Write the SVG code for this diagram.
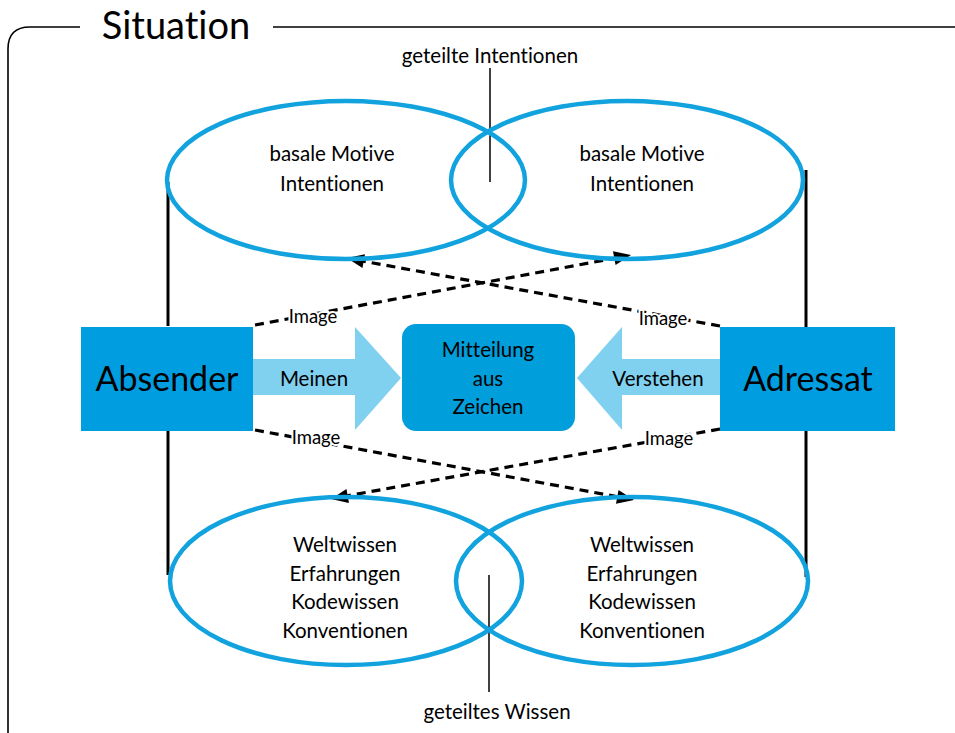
<svg xmlns="http://www.w3.org/2000/svg" width="955" height="733" viewBox="0 0 955 733">
  <style>
    text { font-family: "Lato", "Open Sans", "Liberation Sans", sans-serif; fill: #000; text-anchor: middle; font-variant-ligatures: none; }
    .ell { fill: none; stroke: #12A3DF; stroke-width: 4.5; }
    .post { stroke: #000; stroke-width: 3; fill: none; }
    .dash { stroke: #000; stroke-width: 3.2; stroke-dasharray: 9 6; fill: none; }
    .party { fill: #009EE0; }
    .flow { fill: #80D0F0; }
    .lbl { font-size: 20.5px; }
    .img { font-size: 18.5px; paint-order: stroke; stroke: #fff; stroke-width: 4px; }
    .big { font-size: 34px; }
  </style>
  <defs>
    <!-- arrow tip pointing along +x, tip at origin -->
    <path id="tip" d="M0,0 L-17,-7 L-17,7 Z" fill="#000"/>
  </defs>

  <rect width="955" height="733" fill="#fff"/>

  <!-- situation frame -->
  <g id="frame">
    <path d="M80,27 H30 Q8,27 8,49 V745" fill="none" stroke="#000" stroke-width="1.6"/>
    <path d="M273,27 H955" fill="none" stroke="#000" stroke-width="1.6"/>
    <text x="176" y="39" style="font-size:38px">Situation</text>
  </g>

  <!-- connectors -->
  <g id="connectors">
    <line class="post" x1="168" y1="182" x2="168" y2="326"/>
    <line class="post" x1="168" y1="431" x2="168" y2="575"/>
    <line class="post" x1="806" y1="170" x2="806" y2="328"/>
    <line class="post" x1="806" y1="431" x2="806" y2="577"/>
    <line x1="490" y1="68" x2="490" y2="182" stroke="#000" stroke-width="1.5"/>
    <line x1="489" y1="575" x2="489" y2="692" stroke="#000" stroke-width="1.5"/>

    <line class="dash" x1="255" y1="325" x2="616" y2="258"/>
    <use href="#tip" transform="translate(631,255) rotate(-10.55)"/>
    <line class="dash" x1="720" y1="326" x2="362" y2="261"/>
    <use href="#tip" transform="translate(347,258) rotate(190.33)"/>
    <line class="dash" x1="255" y1="430" x2="619" y2="497"/>
    <use href="#tip" transform="translate(634,500) rotate(10.46)"/>
    <line class="dash" x1="720" y1="429" x2="346" y2="496"/>
    <use href="#tip" transform="translate(331,499) rotate(169.8)"/>

    <text class="img" x="313" y="323">Image</text>
    <text class="img" x="663" y="325">Image</text>
    <text class="img" x="316" y="444">Image</text>
    <text class="img" x="669" y="445">Image</text>
    <text x="490" y="63" class="lbl">geteilte Intentionen</text>
    <text x="497" y="719" class="lbl">geteiltes Wissen</text>
  </g>

  <!-- motive ellipses -->
  <g id="motives-sender">
    <ellipse class="ell" cx="346" cy="180" rx="179" ry="79"/>
  </g>
  <g id="motives-receiver">
    <ellipse class="ell" cx="627" cy="180" rx="176" ry="79"/>
    <text class="lbl" x="332" y="161">basale Motive</text>
    <text class="lbl" x="332" y="191">Intentionen</text>
    <text class="lbl" x="642" y="161">basale Motive</text>
    <text class="lbl" x="642" y="191">Intentionen</text>
  </g>

  <!-- knowledge ellipses -->
  <g id="knowledge-sender">
    <ellipse class="ell" cx="346" cy="581" rx="176" ry="84"/>
  </g>
  <g id="knowledge-receiver">
    <ellipse class="ell" cx="632" cy="581" rx="176" ry="84"/>
    <text class="lbl" x="345" y="552">Weltwissen</text>
    <text class="lbl" x="345" y="581">Erfahrungen</text>
    <text class="lbl" x="345" y="609">Kodewissen</text>
    <text class="lbl" x="345" y="638">Konventionen</text>
    <text class="lbl" x="642" y="552">Weltwissen</text>
    <text class="lbl" x="642" y="581">Erfahrungen</text>
    <text class="lbl" x="642" y="609">Kodewissen</text>
    <text class="lbl" x="642" y="638">Konventionen</text>
  </g>

  <!-- intending / understanding arrows -->
  <g id="meinen">
    <path class="flow" d="M253,359 H355 V327 L401,378 L355,430 V395 H253 Z"/>
    <text class="lbl" x="314" y="386">Meinen</text>
  </g>
  <g id="verstehen">
    <path class="flow" d="M720,359 H622 V327 L577,378 L622,430 V395 H720 Z"/>
    <text class="lbl" x="658" y="386">Verstehen</text>
  </g>

  <g id="absender">
    <rect class="party" x="81" y="327" width="172" height="104"/>
    <text class="big" x="167" y="391">Absender</text>
  </g>
  <g id="adressat">
    <rect class="party" x="720" y="327" width="175" height="104"/>
    <text class="big" x="808" y="391">Adressat</text>
  </g>

  <g id="mitteilung">
    <rect x="402" y="324" width="173" height="107" rx="14" fill="#009EDB"/>
    <text class="lbl" x="488" y="357">Mitteilung</text>
    <text class="lbl" x="488" y="386">aus</text>
    <text class="lbl" x="488" y="414">Zeichen</text>
  </g>
</svg>
